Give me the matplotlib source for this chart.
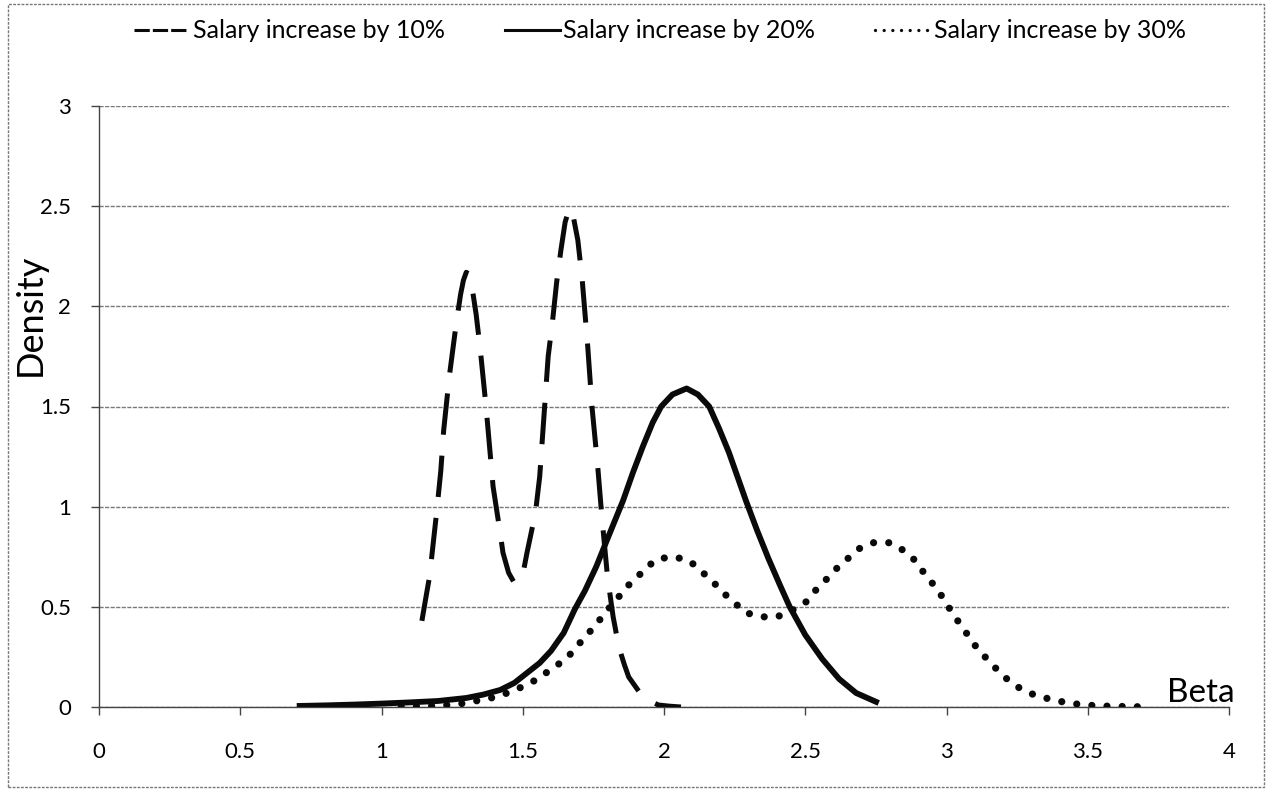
import matplotlib
matplotlib.use("Agg")
import matplotlib.pyplot as plt
from matplotlib.patches import Rectangle
from matplotlib.lines import Line2D

plt.rcParams['font.family'] = ['Lato', 'DejaVu Sans']

# ---- data ----
labels = ["Salary increase by 10%", "Salary increase by 20%", "Salary increase by 30%"]

beta_10 = [1.143, 1.16, 1.17, 1.195, 1.21, 1.22, 1.24, 1.265, 1.28, 1.29, 1.30, 1.31,
           1.32, 1.335, 1.35, 1.37, 1.395, 1.42, 1.43, 1.45, 1.47, 1.485, 1.50, 1.515,
           1.545, 1.56, 1.575, 1.59, 1.605, 1.62, 1.635, 1.65, 1.665, 1.68, 1.695, 1.71,
           1.73, 1.745, 1.766, 1.78, 1.80, 1.82, 1.84, 1.86, 1.875, 1.915, 1.95, 1.98,
           2.02, 2.06]
dens_10 = [0.43, 0.57, 0.65, 0.97, 1.18, 1.38, 1.65, 1.92, 2.06, 2.13, 2.17, 2.16,
           2.10, 1.96, 1.78, 1.50, 1.10, 0.87, 0.77, 0.67, 0.62, 0.63, 0.66, 0.77,
           0.97, 1.15, 1.45, 1.75, 1.92, 2.12, 2.28, 2.42, 2.49, 2.44, 2.33, 2.14,
           1.80, 1.50, 1.19, 0.95, 0.65, 0.45, 0.30, 0.21, 0.15, 0.07, 0.03, 0.01,
           0.004, 0.0]

beta_20 = [0.70, 0.80, 0.90, 1.00, 1.10, 1.20, 1.30, 1.36, 1.42, 1.47, 1.515, 1.56,
           1.60, 1.645, 1.685, 1.72, 1.76, 1.80, 1.855, 1.89, 1.925, 1.96, 1.99, 2.03,
           2.08, 2.12, 2.16, 2.195, 2.23, 2.26, 2.29, 2.33, 2.37, 2.41, 2.445, 2.50,
           2.56, 2.62, 2.68, 2.76]
dens_20 = [0.005, 0.008, 0.012, 0.017, 0.023, 0.030, 0.045, 0.062, 0.085, 0.120, 0.170, 0.220,
           0.280, 0.370, 0.490, 0.580, 0.700, 0.840, 1.030, 1.170, 1.300, 1.420, 1.500, 1.560,
           1.590, 1.560, 1.500, 1.390, 1.270, 1.150, 1.030, 0.880, 0.740, 0.610, 0.500, 0.360,
           0.240, 0.140, 0.070, 0.020]

beta_30 = [1.07, 1.12, 1.18, 1.24, 1.30, 1.35, 1.405, 1.455, 1.505, 1.56, 1.60, 1.65,
           1.685, 1.72, 1.76, 1.79, 1.83, 1.86, 1.90, 1.94, 1.98, 2.035, 2.09, 2.13,
           2.17, 2.21, 2.25, 2.29, 2.35, 2.40, 2.45, 2.50, 2.535, 2.57, 2.61, 2.65,
           2.69, 2.74, 2.80, 2.85, 2.89, 2.92, 2.96, 2.99, 3.02, 3.05, 3.08, 3.11,
           3.15, 3.19, 3.23, 3.27, 3.32, 3.38, 3.43, 3.49, 3.55, 3.60, 3.66, 3.71]
dens_30 = [0.0, 0.003, 0.006, 0.010, 0.020, 0.035, 0.050, 0.075, 0.105, 0.145, 0.190, 0.235,
           0.290, 0.350, 0.410, 0.470, 0.530, 0.590, 0.640, 0.700, 0.740, 0.750, 0.730, 0.680,
           0.630, 0.570, 0.520, 0.470, 0.450, 0.450, 0.480, 0.520, 0.580, 0.630, 0.690, 0.740,
           0.790, 0.820, 0.820, 0.780, 0.730, 0.670, 0.600, 0.540, 0.470, 0.410, 0.350, 0.290,
           0.230, 0.170, 0.120, 0.085, 0.055, 0.035, 0.020, 0.010, 0.005, 0.003, 0.002, 0.0]

x_ticks = [0, 0.5, 1, 1.5, 2, 2.5, 3, 3.5, 4]
x_tick_labels = ["0", "0.5", "1", "1.5", "2", "2.5", "3", "3.5", "4"]
y_ticks = [0, 0.5, 1, 1.5, 2, 2.5, 3]
y_tick_labels = ["0", "0.5", "1", "1.5", "2", "2.5", "3"]

# ---- figure ----
W, H = 1269, 790
fig = plt.figure(figsize=(W / 100, H / 100), dpi=100)
ax = fig.add_axes([99 / W, 1 - 707 / H, 1130 / W, 601 / H])

ink = '#0a0a0a'
ax.plot(beta_10, dens_10, color=ink, lw=3.6, dashes=(8.3, 4.2),
        dash_capstyle='butt', solid_joinstyle='round', zorder=4)
ax.plot(beta_20, dens_20, color=ink, lw=4.2, solid_capstyle='butt',
        solid_joinstyle='round', zorder=3)
ax.plot(beta_30, dens_30, color=ink, lw=5.2, dashes=(0.001, 2.1),
        dash_capstyle='round', zorder=5)

ax.set_xlim(0, 4)
ax.set_ylim(0, 3)
ax.set_xticks(x_ticks)
ax.set_xticklabels(x_tick_labels)
ax.set_yticks(y_ticks)
ax.set_yticklabels(y_tick_labels)

ax.grid(axis='y', color='#7a7a7a', lw=1.0, linestyle=(0, (3, 1)))
ax.set_axisbelow(True)
for s in ['top', 'right']:
    ax.spines[s].set_visible(False)
for s in ['left', 'bottom']:
    ax.spines[s].set_color('#444444')
    ax.spines[s].set_linewidth(1.0)

ax.tick_params(axis='x', direction='out', length=6, width=1, color='#444444',
               pad=19, labelsize=16, labelcolor='#000000')
ax.tick_params(axis='y', direction='out', length=6, width=1, color='#444444',
               pad=14, labelsize=16, labelcolor='#000000')

ax.text(4.02, 0.025, 'Beta', ha='right', va='baseline', fontsize=24, color='#000000')
fig.text(30 / W, 1 - 315 / H, 'Density', rotation=90, ha='center', va='center',
         fontsize=26, color='#000000')

# legend proxies: thinner strokes like the reference legend keys
h10 = Line2D([], [], color=ink, lw=2.2, dashes=(5.0, 1.0), dash_capstyle='butt')
h20 = Line2D([], [], color=ink, lw=2.2)
h30 = Line2D([], [], color=ink, lw=2.4, dashes=(0.001, 2.6), dash_capstyle='round')
leg = ax.legend([h10, h20, h30], labels, loc='center',
                bbox_to_anchor=(660 / W, 1 - 31 / H),
                bbox_transform=fig.transFigure, ncol=3, frameon=False,
                fontsize=18, handlelength=2.2, handletextpad=0.15,
                columnspacing=2.4)
for t in leg.get_texts():
    t.set_color('#000000')

fig.add_artist(Rectangle((8 / W, 3 / H), (1264 - 8) / W, (786 - 3) / H,
                         transform=fig.transFigure, fill=False,
                         edgecolor='#777777', lw=1.0, linestyle=(0, (2, 1))))

fig.savefig('out.png', dpi=100)
